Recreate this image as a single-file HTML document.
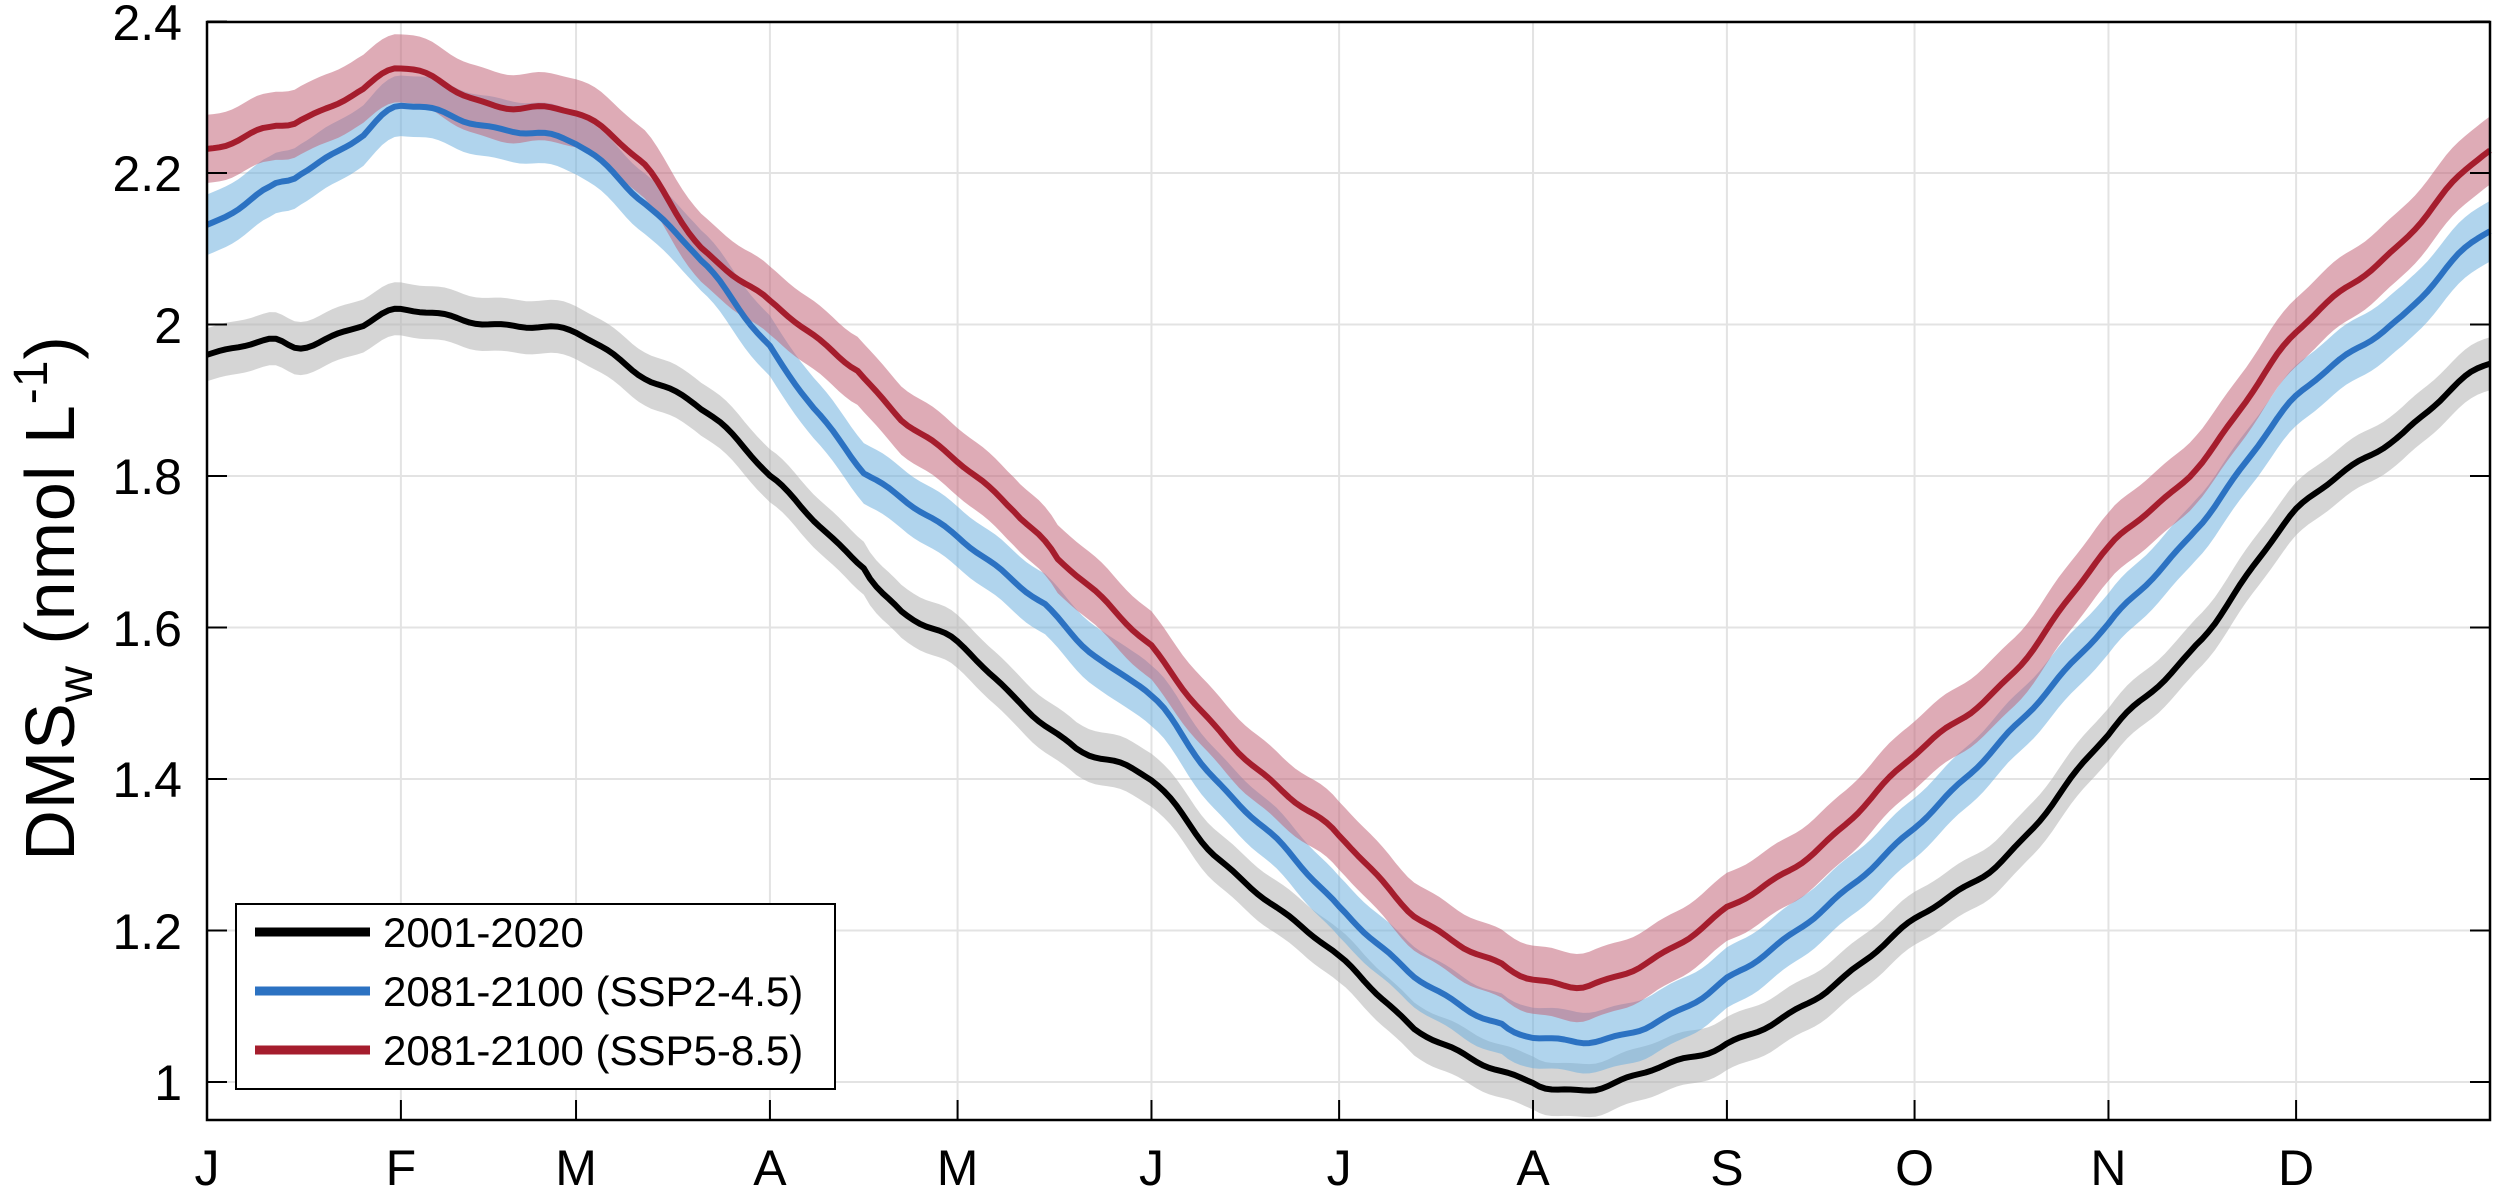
<!DOCTYPE html>
<html><head><meta charset="utf-8"><style>
html,body{margin:0;padding:0;background:#fff;}
svg{display:block;font-family:"Liberation Sans",Arial,sans-serif;}
</style></head><body>
<svg id="s" width="2500" height="1192" xmlns="http://www.w3.org/2000/svg">
<g id="grid"></g>
<g id="bands"></g>
<g id="lines"></g>
<g id="axes"></g>
<g font-size="50" fill="#000" text-anchor="end">
<text x="182" y="40">2.4</text>
<text x="182" y="191">2.2</text>
<text x="182" y="343">2</text>
<text x="182" y="494">1.8</text>
<text x="182" y="646">1.6</text>
<text x="182" y="797">1.4</text>
<text x="182" y="949">1.2</text>
<text x="182" y="1100">1</text>
</g>
<g font-size="50" fill="#000" text-anchor="middle" id="xl"></g>
<text transform="translate(74,598) rotate(-90)" font-size="70" text-anchor="middle" letter-spacing="1">DMS<tspan font-size="50" dy="18">w</tspan><tspan dy="-18"> (nmol L</tspan><tspan font-size="48" dy="-27">-1</tspan><tspan dy="27">)</tspan></text>
<g>
<rect x="236" y="904" width="599" height="185" fill="#fff" stroke="#000" stroke-width="2"/>
<line x1="255" y1="932" x2="370" y2="932" stroke="#000" stroke-width="9"/>
<line x1="255" y1="991" x2="370" y2="991" stroke="#2c72c2" stroke-width="9"/>
<line x1="255" y1="1050" x2="370" y2="1050" stroke="#a51d2d" stroke-width="9"/>
<g font-size="42"><text x="383" y="947">2001-2020</text><text x="383" y="1006">2081-2100 (SSP2-4.5)</text><text x="383" y="1065">2081-2100 (SSP5-8.5)</text></g>
</g>
</svg>
<script>
var L=207,R=2490,T=22,B=1120;
function X(d){return L+d*(R-L)/365;}
function Y(v){return 1082-(v-1)*757.5;}
var ns="http://www.w3.org/2000/svg";
function el(p,t,a){var e=document.createElementNS(ns,t);for(var k in a)e.setAttribute(k,a[k]);document.getElementById(p).appendChild(e);return e;}
var md=[0,31,59,90,120,151,181,212,243,273,304,334],ml="JFMAMJJASOND";
md.forEach(function(d,i){var x=X(d);
 if(i>0){el("grid","line",{x1:x,y1:T,x2:x,y2:B,stroke:"#e3e3e3","stroke-width":2});
 el("axes","line",{x1:x,y1:B,x2:x,y2:B-20,stroke:"#000","stroke-width":2});}
 var t=el("xl","text",{x:x,y:1185});t.textContent=ml[i];});
for(var v=1;v<2.41;v+=0.2){var y=Y(v);el("grid","line",{x1:L,y1:y,x2:R,y2:y,stroke:"#e3e3e3","stroke-width":2});
 el("axes","line",{x1:L,y1:y,x2:L+20,y2:y,stroke:"#000","stroke-width":2});
 el("axes","line",{x1:R,y1:y,x2:R-20,y2:y,stroke:"#000","stroke-width":2});}
el("axes","rect",{x:L,y:T,width:R-L,height:B-T,fill:"none",stroke:"#000","stroke-width":2.5});
var S={
blk:[[0,10,15,25,31,45,59,70,79,90,105,111,120,130,139,151,161,171,181,193,212,221,232,243,258,273,288,304,318,334,351,365],
 [1.96,1.98,1.97,2.0,2.02,2.0,1.99,1.93,1.89,1.80,1.68,1.62,1.58,1.50,1.44,1.40,1.30,1.23,1.165,1.07,1.0,0.99,1.02,1.05,1.115,1.215,1.30,1.46,1.576,1.755,1.855,1.95]],
blu:[[0,10,15,25,31,45,59,70,79,90,97,105,120,134,143,151,161,171,181,193,207,212,222,232,243,258,273,288,304,318,334,351,365],
 [2.13,2.18,2.2,2.25,2.29,2.26,2.24,2.16,2.085,1.97,1.89,1.805,1.72,1.63,1.555,1.51,1.40,1.32,1.23,1.14,1.075,1.06,1.054,1.08,1.136,1.225,1.336,1.46,1.605,1.73,1.905,2.01,2.125]],
red:[[0,10,15,25,31,45,59,70,79,90,104,111,120,129,136,151,161,171,181,193,207,215,222,233,243,258,273,288,304,318,334,350,365],
 [2.23,2.26,2.27,2.31,2.34,2.29,2.28,2.21,2.10,2.03,1.94,1.875,1.82,1.755,1.69,1.575,1.47,1.39,1.325,1.22,1.155,1.13,1.13,1.17,1.23,1.31,1.433,1.533,1.705,1.81,1.99,2.10,2.23]]};
function interp(s,d){var days=s[0],arr=s[1];for(var i=0;i<days.length-1;i++){if(d<=days[i+1]){var t=(d-days[i])/(days[i+1]-days[i]);
 var p0=arr[Math.max(i-1,0)],p1=arr[i],p2=arr[i+1],p3=arr[Math.min(i+2,arr.length-1)];
 var t2=t*t,t3=t2*t;return 0.5*((2*p1)+(-p0+p2)*t+(2*p0-5*p1+4*p2-p3)*t2+(-p0+3*p1-3*p2+p3)*t3);}}return arr[arr.length-1];}
function draw(s,col,band,w,seed){var up=[],dn=[],ln=[];
 for(var d=0;d<=365;d+=1){var v=interp(s,d)+0.002*Math.sin(d*0.7+seed);
  ln.push(X(d).toFixed(1)+","+Y(v).toFixed(1));up.push(X(d).toFixed(1)+","+Y(v+w).toFixed(1));dn.unshift(X(d).toFixed(1)+","+Y(v-w).toFixed(1));}
 el("bands","polygon",{points:up.concat(dn).join(" "),fill:band,"fill-opacity":0.55});
 el("lines","polyline",{points:ln.join(" "),fill:"none",stroke:col,"stroke-width":6,"stroke-linejoin":"round"});}
draw(S.blk,"#000","#b3b3b3",0.035,0);
draw(S.blu,"#2c72c2","#6fb0de",0.04,1);
draw(S.red,"#a51d2d","#c3667a",0.045,2);
</script>
</body></html>
